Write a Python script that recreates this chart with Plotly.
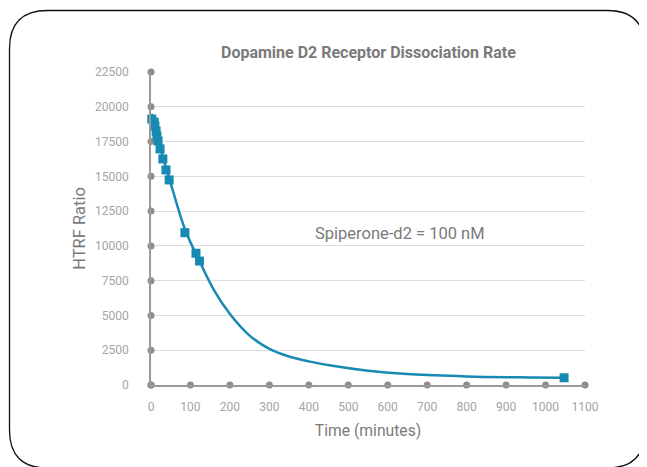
import plotly.graph_objects as go

# Measured data (time in minutes, HTRF ratio)
time_pts = [-8, 2, 8, 10, 13, 15, 18, 23, 30, 38, 46, 86, 114, 123, 1047]
htrf_pts = [19290, 19120, 18900, 18620, 18260, 17900, 17540, 16970, 16250, 15460, 14740, 10950, 9470, 8910, 520]

# Fitted curve
curve_t = [2, 25, 50, 86, 123, 160, 200, 250, 300, 350, 400, 460, 550, 660, 800, 960, 1047]
curve_y = [19500, 16900, 14500, 11200, 8900, 6800, 5100, 3550, 2600, 2050, 1700, 1380, 1030, 770, 620, 545, 520]

x_ticks = [0, 100, 200, 300, 400, 500, 600, 700, 800, 900, 1000, 1100]
y_ticks = [0, 2500, 5000, 7500, 10000, 12500, 15000, 17500, 20000, 22500]

title = "Dopamine D2 Receptor Dissociation Rate"
note = "Spiperone-d2 = 100 nM"

OFF = 8  # page body margin
W, H = 647 - OFF, 467 - OFF
L, T = 151 - OFF, 72 - OFF
pw, ph = 434, 313
R, B = W - L - pw, H - T - ph

FONT = "Roboto, Liberation Sans, sans-serif"
TEAL = "#168ab2"
GRAY_DOT = "#8c8c8c"

fig = go.Figure()

# tick dots on axes
fig.add_trace(go.Scatter(x=x_ticks, y=[0] * len(x_ticks), mode="markers",
                         marker=dict(color=GRAY_DOT, size=7), cliponaxis=False,
                         hoverinfo="skip", showlegend=False))
fig.add_trace(go.Scatter(x=[0] * len(y_ticks), y=y_ticks, mode="markers",
                         marker=dict(color=GRAY_DOT, size=7), cliponaxis=False,
                         hoverinfo="skip", showlegend=False))

fig.add_trace(go.Scatter(x=curve_t, y=curve_y, mode="lines",
                         line=dict(color=TEAL, width=2.5, shape="spline", smoothing=1.0),
                         cliponaxis=False, showlegend=False))
fig.add_trace(go.Scatter(x=time_pts, y=htrf_pts, mode="markers",
                         marker=dict(color=TEAL, size=9, symbol="square"),
                         cliponaxis=False, showlegend=False))


def px2paper(x, y):
    # x, y are page pixels
    return (x - OFF - L) / pw, (T + ph - (y - OFF)) / ph


def rounded_rect(x0, y0, x1, y1, r):
    def P(x, y):
        a, b = px2paper(x, y)
        return f"{a:.5f},{b:.5f}"
    d = f"M {P(x0 + r, y0)} L {P(x1 - r, y0)} Q {P(x1, y0)} {P(x1, y0 + r)} "
    d += f"L {P(x1, y1 - r)} Q {P(x1, y1)} {P(x1 - r, y1)} "
    d += f"L {P(x0 + r, y1)} Q {P(x0, y1)} {P(x0, y1 - r)} "
    d += f"L {P(x0, y0 + r)} Q {P(x0, y0)} {P(x0 + r, y0)} Z"
    return d


fig.add_shape(type="path", xref="paper", yref="paper",
              path=rounded_rect(9.5, 10.5, 645, 468, 38),
              line=dict(color="#111111", width=1.3), layer="below")

tx, ty = px2paper(368, 52)
fig.add_annotation(x=tx, xref="paper", y=ty, yref="paper",
                   text=f"<b>{title}</b>", showarrow=False,
                   font=dict(family=FONT, size=16, color="#7a7a7a"),
                   xanchor="center", yanchor="middle")
ax_, ay_ = px2paper(313, 233)
fig.add_annotation(x=ax_, y=ay_, xref="paper", yref="paper", text=note, showarrow=False,
                   xanchor="left", yanchor="middle",
                   font=dict(family=FONT, size=16.5, color="#7a7a7a"))

fig.update_layout(
    width=W, height=H,
    margin=dict(l=L, r=R, t=T, b=B),
    paper_bgcolor="white", plot_bgcolor="white",
    font=dict(family=FONT, color="#9a9a9a", size=12),
    xaxis=dict(range=[0, 1100], tickvals=x_ticks, tickformat="d", showgrid=False, zeroline=False,
               showline=True, linecolor="#9a9a9a", linewidth=1.5,
               ticks="outside", ticklen=10, tickcolor="rgba(0,0,0,0)",
               tickfont=dict(size=12, color="#a4a4a4"),
               title=dict(text="Time (minutes)", font=dict(size=15.7, color="#7a7a7a"), standoff=12)),
    yaxis=dict(range=[0, 22500], tickvals=y_ticks, tickformat="d", showgrid=True, gridcolor="#dddddd",
               gridwidth=1.2, zeroline=False,
               showline=True, linecolor="#9a9a9a", linewidth=1.5,
               ticks="outside", ticklen=18, tickcolor="rgba(0,0,0,0)",
               tickfont=dict(size=12, color="#a4a4a4"),
               title=dict(text="HTRF Ratio", font=dict(size=16.5, color="#7a7a7a"), standoff=5)),
)

fig.write_html("out.html")
